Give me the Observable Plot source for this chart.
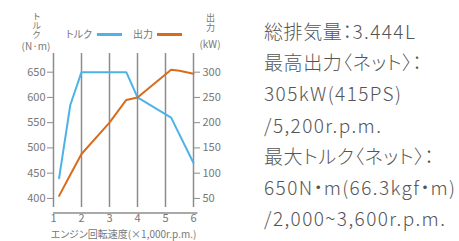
<!DOCTYPE html>
<html><head><meta charset="utf-8">
<script src="https://cdn.jsdelivr.net/npm/d3@7"></script>
<script src="https://cdn.jsdelivr.net/npm/@observablehq/plot@0.6"></script>
<style>
html,body{margin:0;padding:0;background:#fff;}
#wrap{position:relative;width:459px;height:241px;font-family:"Noto Sans CJK JP","Noto Sans",sans-serif;font-feature-settings:"palt";}
#chart{position:absolute;left:0;top:0;}
.t{position:absolute;color:#777;font-size:10px;line-height:1;white-space:nowrap;}
.v{writing-mode:vertical-rl;text-orientation:upright;font-size:9px;line-height:10px;}
.sw{position:absolute;height:2.5px;}
#spec{position:absolute;left:264px;top:15px;color:#555;font-size:19px;line-height:31.2px;white-space:nowrap;font-weight:300;letter-spacing:0.6px;}
#spec .lat{letter-spacing:1.4px;}
</style></head>
<body><div id="wrap"><div id="chart"></div>
<div class="t v" style="left:31px;top:12px;width:10px;">トルク</div>
<div class="t" style="left:21px;top:41px;width:30px;text-align:center;">(N·m)</div>
<div class="t v" style="left:205px;top:13px;width:10px;letter-spacing:1px;">出力</div>
<div class="t" style="left:195px;top:39px;width:30px;text-align:center;">(kW)</div>
<div class="t" style="left:66px;top:29px;">トルク</div>
<div class="sw" style="left:97px;top:33px;width:25px;background:#4db3e6"></div>
<div class="t" style="left:133px;top:29px;">出力</div>
<div class="sw" style="left:157px;top:33px;width:25px;background:#d86c1e"></div>
<div id="spec"></div>
</div>
<script>
const rpmTorque = [1.2, 1.6, 2.0, 3.6, 4.0, 5.2, 6.0];
const torque    = [440, 585, 650, 650, 600, 560, 470];
const rpmPower  = [1.2, 1.6, 2.0, 3.0, 3.6, 4.0, 5.2, 5.5, 6.0];
const power     = [55, 97, 138, 200, 245, 250, 305, 303, 297];
const xTicks = [1, 2, 3, 4, 5, 6];
const torqueTicks = [400, 450, 500, 550, 600, 650];
const powerTicks = [50, 100, 150, 200, 250, 300];
const powerOffset = 350; // right axis kW = left axis N·m - 350
const xLabel = "エンジン回転速度(×1,000r.p.m.)";
const specLines = ["総排気量：3.444L","最高出力〈ネット〉：","305kW(415PS)","/5,200r.p.m.","最大トルク〈ネット〉：","650N・m(66.3kgf・m)","/2,000~3,600r.p.m."];

const tData = rpmTorque.map((x,i)=>({x, v: torque[i]}));
const pData = rpmPower.map((x,i)=>({x, v: power[i] + powerOffset}));
const yDomain = [382, 687];
const gray = "#8c8c8c";

const plot = Plot.plot({
  width: 240, height: 241,
  marginLeft: 53, marginRight: 47, marginTop: 53, marginBottom: 34,
  style: {fontFamily: "'Noto Sans CJK JP','Noto Sans',sans-serif", fontSize: "11px", color: "#777", background: "transparent"},
  x: {domain: [1, 6]},
  y: {domain: yDomain},
  marks: [
    Plot.ruleX(xTicks, {y1: yDomain[0], y2: yDomain[1], stroke: gray, strokeWidth: 1.5}),
    Plot.ruleY([yDomain[0]], {x1: 1, x2: 6.16, dy: 5.5, stroke: gray, strokeWidth: 1.5}),
    Plot.axisY({ticks: torqueTicks, tickSize: 6, tickPadding: 2, stroke: gray, fill: "#777", label: null}),
    Plot.axisY({anchor: "right", ticks: powerTicks.map(d => d + powerOffset), tickFormat: d => d - powerOffset, tickSize: 6, tickPadding: 3, stroke: gray, fill: "#777", label: null}),
    Plot.axisX({ticks: xTicks, tickFormat: d3.format("d"), tickSize: 0, tickPadding: 7, fill: "#777", label: null}),
    Plot.text([xLabel], {frameAnchor: "bottom", dy: 30, fill: "#777", fontSize: 10}),
    Plot.line(tData, {x: "x", y: "v", stroke: "#4db3e6", strokeWidth: 2}),
    Plot.line(pData, {x: "x", y: "v", stroke: "#d86c1e", strokeWidth: 2})
  ]
});
document.getElementById("chart").appendChild(plot);
document.getElementById("spec").innerHTML = specLines
  .map(s => "<div>" + s.replace(/[\x21-\x7e]+/g, m => `<span class="lat">${m}</span>`) + "</div>")
  .join("");
</script>
</body></html>
